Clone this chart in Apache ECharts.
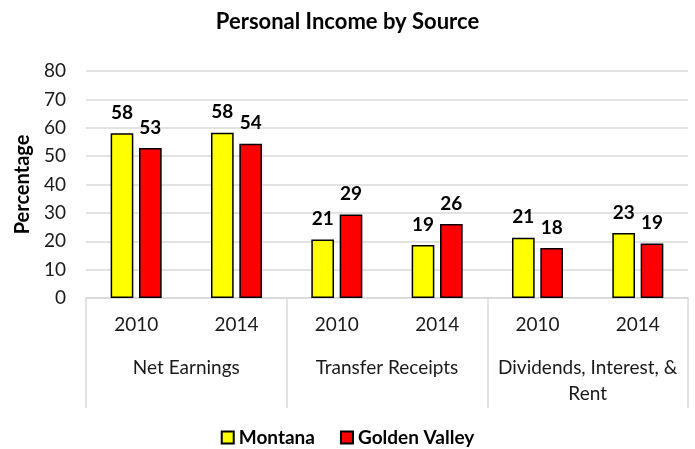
<!DOCTYPE html>
<html>
<head>
<meta charset="utf-8">
<title>Personal Income by Source</title>
<style>
    html, body { margin: 0; padding: 0; background: #fff; }
    #chart { width: 695px; height: 449px; }
</style>
</head>
<body>
<div id="chart"></div>
<script src="https://cdn.jsdelivr.net/npm/echarts@6/dist/echarts.min.js"></script>
<script>
// data
var years = ['2010', '2014', '2010', '2014', '2010', '2014'];
var groups = ['Net Earnings', 'Transfer Receipts', 'Dividends, Interest, &\nRent'];
var montana = [58.1, 58.2, 20.6, 18.7, 21.2, 22.9];
var goldenValley = [52.9, 54.4, 29.4, 26.1, 17.6, 19.2];
var yTicks = { min: 0, max: 80, step: 10 };

var FONT = 'Lato, "Open Sans", sans-serif';
var TXT = '#1a1a1a';
var GRAY = '#d9d9d9';

var chart = echarts.init(document.getElementById('chart'));

function barLabel() {
    return {
        show: true,
        position: 'top',
        distance: 11,
        fontFamily: FONT,
        fontSize: 19,
        fontWeight: 'bold',
        color: '#000',
        formatter: function (p) { return Math.round(p.value); }
    };
}

var option = {
    animation: false,
    title: {
        text: 'Personal Income by Source',
        left: 'center',
        top: 6,
        textStyle: { fontFamily: FONT, fontSize: 22, fontWeight: 'bold', color: '#000' }
    },
    legend: {
        top: 423,
        left: 'center',
        icon: 'rect',
        itemWidth: 12,
        itemHeight: 12,
        itemGap: 25,
        textStyle: { fontFamily: FONT, fontSize: 19, fontWeight: 'bold', color: '#000' },
        data: ['Montana', 'Golden Valley']
    },
    grid: { left: 86, right: 7, top: 71, bottom: 151 },
    xAxis: [
        {
            type: 'category',
            data: years,
            axisLine: { lineStyle: { color: GRAY, width: 1.5 } },
            axisTick: { show: false },
            axisLabel: { margin: 17, fontFamily: FONT, fontSize: 19, color: TXT }
        },
        {
            type: 'category',
            data: groups,
            position: 'bottom',
            axisLine: { show: false },
            axisTick: { show: true, length: 110, interval: 0, lineStyle: { color: GRAY, width: 1.5 } },
            axisLabel: { margin: 57, interval: 0, fontFamily: FONT, fontSize: 19, color: TXT, lineHeight: 26 }
        }
    ],
    yAxis: {
        type: 'value',
        min: yTicks.min,
        max: yTicks.max,
        interval: yTicks.step,
        name: 'Percentage',
        nameLocation: 'middle',
        nameGap: 53,
        nameTextStyle: { fontFamily: FONT, fontSize: 20, fontWeight: 'bold', color: '#000' },
        axisLine: { show: false },
        axisTick: { show: false },
        axisLabel: { margin: 20, fontFamily: FONT, fontSize: 19, color: TXT },
        splitLine: { lineStyle: { color: GRAY, width: 1.5 } }
    },
    series: [
        {
            name: 'Montana',
            type: 'bar',
            data: montana,
            barWidth: '22.6%',
            barGap: '25%',
            itemStyle: { color: '#ffff00', borderColor: '#000', borderWidth: 1.5 },
            label: barLabel()
        },
        {
            name: 'Golden Valley',
            type: 'bar',
            data: goldenValley,
            barWidth: '22.6%',
            itemStyle: { color: '#ff0000', borderColor: '#000', borderWidth: 1.5 },
            label: barLabel()
        }
    ]
};

chart.setOption(option);
</script>
</body>
</html>
